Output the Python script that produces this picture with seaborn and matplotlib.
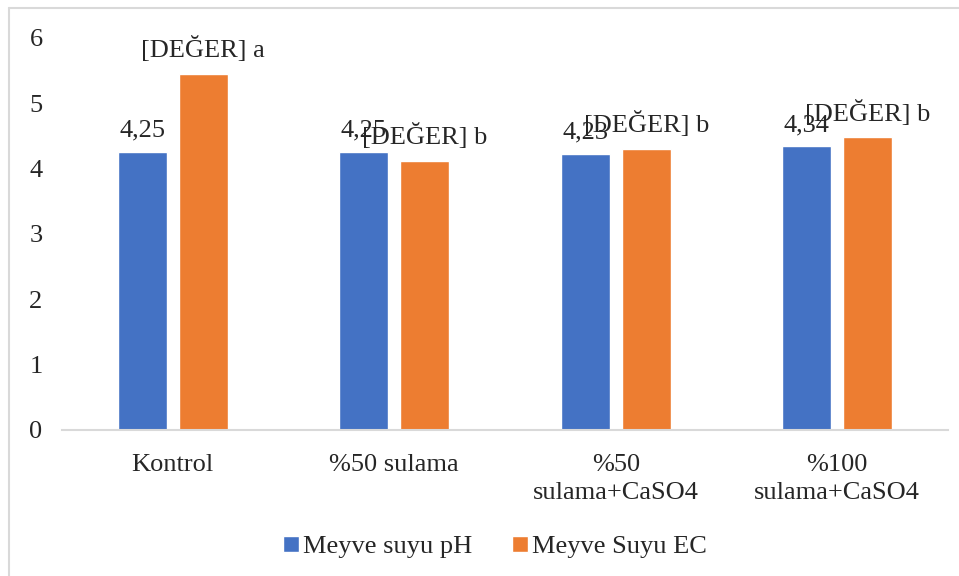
import pandas as pd
import numpy as np
import matplotlib
matplotlib.use('Agg')
import matplotlib.pyplot as plt
from matplotlib.lines import Line2D
import seaborn as sns

# data
categories = ['Kontrol', '%50 sulama', '%50\nsulama+CaSO4', '%100\nsulama+CaSO4']
ph_values = [4.25, 4.25, 4.23, 4.34]
ec_values = [5.45, 4.12, 4.30, 4.48]
ph_labels = ['4,25', '4,25', '4,23', '4,34']
ec_labels = ['[DEĞER] a', '[DEĞER] b', '[DEĞER] b', '[DEĞER] b']
series = ['Meyve suyu pH', 'Meyve Suyu EC']
colors = ['#4472C4', '#ED7D31']

df = pd.DataFrame({
    'kategori': categories * 2,
    'deger': ph_values + ec_values,
    'seri': [series[0]] * 4 + [series[1]] * 4,
})

sns.set_style('white')
plt.rcParams['font.family'] = ['Liberation Serif', 'DejaVu Serif']
plt.rcParams['font.size'] = 19

fig = plt.figure(figsize=(9.59, 5.76), dpi=100)
ax = fig.add_axes([62 / 959, 1 - 430 / 576, 886 / 959, 392 / 576])

sns.barplot(data=df, x='kategori', y='deger', hue='seri', palette=colors,
            width=0.55, gap=0.2, ax=ax, legend=True, saturation=1)

ax.bar_label(ax.containers[0], labels=ph_labels, padding=7.5, fontsize=19)
ax.bar_label(ax.containers[1], labels=ec_labels, padding=8.5, fontsize=19)

ax.set_ylim(0, 6)
ax.set_yticks(range(7))
ax.set_xlabel('')
ax.set_ylabel('')
ax.tick_params(axis='both', length=0, labelsize=19)
ax.tick_params(axis='y', pad=14)
ax.tick_params(axis='x', pad=17)
for lbl in ax.get_xticklabels():
    lbl.set_linespacing(1.35)
for s in ['top', 'right', 'left']:
    ax.spines[s].set_visible(False)
ax.spines['bottom'].set_color('#d9d9d9')
ax.spines['bottom'].set_linewidth(1.5)

ax.legend(loc='center', bbox_to_anchor=(495 / 959, 1 - 547 / 576), bbox_transform=fig.transFigure,
          ncol=2, frameon=False, fontsize=19, handlelength=0.6, handleheight=0.6,
          handletextpad=0.15, columnspacing=1.5)

# outer border
fig.add_artist(Line2D([8.5 / 959, 1], [1 - 8 / 576, 1 - 8 / 576], color='#d9d9d9', lw=1.5))
fig.add_artist(Line2D([8.5 / 959, 8.5 / 959], [0, 1 - 8 / 576], color='#d9d9d9', lw=1.5))

fig.savefig('out.png', dpi=100)
